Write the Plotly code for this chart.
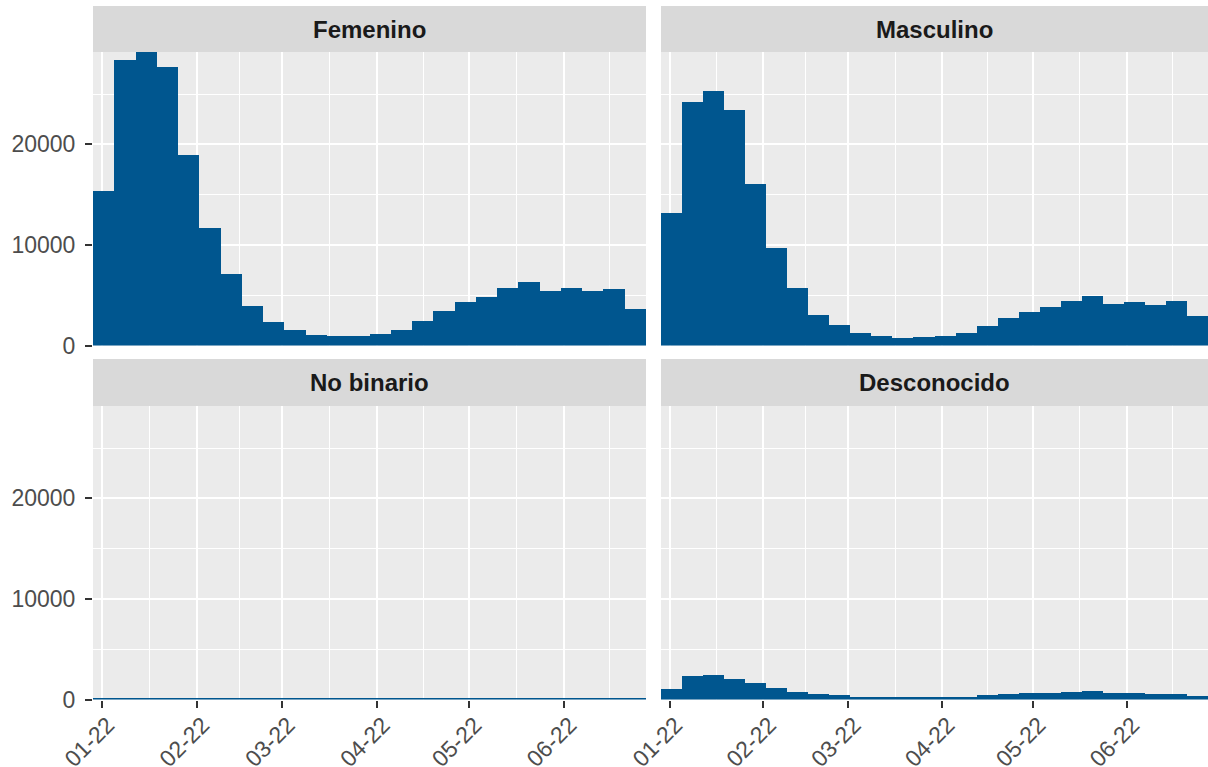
import pandas as pd
import plotly.graph_objects as go

# ---------------- data ----------------
panels = ["Femenino", "Masculino", "No binario", "Desconocido"]

femenino = [15390, 28410, 29180, 27680, 18910, 11730, 7110, 3920, 2360, 1530,
            1060, 900, 900, 1130, 1530, 2430, 3390, 4290, 4820, 5720,
            6280, 5380, 5720, 5380, 5650, 3660]
masculino = [13190, 24230, 25320, 23390, 16080, 9740, 5720, 3060, 1990, 1260,
             960, 730, 800, 900, 1200, 1930, 2690, 3320, 3860, 4450,
             4920, 4150, 4350, 4050, 4420, 2890]
no_binario = [120, 130, 140, 130, 120, 120, 110, 110, 110, 110,
              100, 100, 100, 100, 110, 110, 120, 120, 130, 130,
              130, 120, 120, 120, 120, 110]
desconocido = [1030, 2330, 2460, 2060, 1630, 1160, 760, 500, 400, 270,
               270, 200, 200, 270, 270, 400, 570, 670, 670, 730,
               800, 670, 670, 500, 570, 330]

tick_dates = ["2022-01-01", "2022-02-01", "2022-03-01", "2022-04-01", "2022-05-01", "2022-06-01"]
tick_labels = ["01-22", "02-22", "03-22", "04-22", "05-22", "06-22"]
minor_dates = ["2022-01-16 12:00", "2022-02-15", "2022-03-16 12:00", "2022-04-16",
               "2022-05-16 12:00", "2022-06-16"]
y_ticks = [0, 10000, 20000]
y_tick_labels = ["0", "10000", "20000"]
y_minor = [5000, 15000, 25000]

bin_start = pd.Timestamp("2021-12-29 03:50")
bin_days = 6.95
n_bins = len(femenino)

# ---------------- style ----------------
BAR = "#00568F"
PANEL_BG = "#EBEBEB"
STRIP_BG = "#D9D9D9"
TXT = "#4D4D4D"
FONT = "Liberation Sans, Arial, sans-serif"
FS = 23
FS_STRIP = 24

W, H = 1208, 767
xdom = [[93 / W, 646 / W], [661 / W, 1.0]]
ydom_top = [1 - 345.5 / H, 1 - 52 / H]
ydom_bot = [1 - 699.5 / H, 1 - 406 / H]
strip_top = [1 - 52 / H, 1 - 6 / H]
strip_bot = [1 - 406 / H, 1 - 359 / H]

centers = [bin_start + pd.Timedelta(days=bin_days * (i + 0.5)) for i in range(n_bins)]
width_ms = bin_days * 86400000
x_range = [bin_start, bin_start + pd.Timedelta(days=bin_days * n_bins)]
y_max = max(femenino)

fig = go.Figure()
series = [femenino, masculino, no_binario, desconocido]
for i, vals in enumerate(series):
    sfx = "" if i == 0 else str(i + 1)
    fig.add_trace(go.Bar(
        x=centers, y=vals, width=width_ms,
        marker=dict(color=BAR, line=dict(width=0)),
        xaxis="x" + sfx, yaxis="y" + sfx, showlegend=False,
        hoverinfo="x+y",
    ))

layout = dict(
    width=W, height=H,
    margin=dict(l=0, r=0, t=0, b=0, autoexpand=False),
    paper_bgcolor="white",
    plot_bgcolor=PANEL_BG,
    font=dict(family=FONT, size=FS, color=TXT),
    bargap=0,
    showlegend=False,
)

for i in range(4):
    sfx = "" if i == 0 else str(i + 1)
    col = i % 2
    row = i // 2
    bottom = row == 1
    left = col == 0
    xa = dict(
        domain=xdom[col], anchor="y" + sfx, type="date",
        range=x_range, tickvals=tick_dates, ticktext=tick_labels,
        showticklabels=bottom, ticks="outside" if bottom else "",
        ticklen=7, tickwidth=1.5, tickcolor="#333333",
        tickangle=-45, tickfont=dict(size=FS, color=TXT),
        ticklabelstandoff=-5, ticklabelshift=6,
        showgrid=True, gridcolor="white", gridwidth=1.7,
        minor=dict(tickvals=minor_dates, showgrid=True, gridcolor="white",
                   gridwidth=0.8, ticks=""),
        zeroline=False, showline=False, fixedrange=True, automargin=False,
    )
    ya = dict(
        domain=ydom_bot if bottom else ydom_top, anchor="x" + sfx,
        range=[0, y_max], tickvals=y_ticks, ticktext=y_tick_labels,
        showticklabels=left, ticks="outside" if left else "",
        ticklen=7, tickwidth=1.5, tickcolor="#333333",
        ticklabelstandoff=5,
        tickfont=dict(size=FS, color=TXT),
        showgrid=True, gridcolor="white", gridwidth=1.7,
        minor=dict(tickvals=y_minor, showgrid=True, gridcolor="white",
                   gridwidth=0.8, ticks=""),
        zeroline=False, showline=False, fixedrange=True, automargin=False,
    )
    layout["xaxis" + sfx] = xa
    layout["yaxis" + sfx] = ya

shapes = []
annotations = []
for i, name in enumerate(panels):
    col = i % 2
    row = i // 2
    sy = strip_bot if row == 1 else strip_top
    shapes.append(dict(type="rect", xref="paper", yref="paper",
                       x0=xdom[col][0], x1=xdom[col][1], y0=sy[0], y1=sy[1],
                       fillcolor=STRIP_BG, line=dict(width=0), layer="below"))
    annotations.append(dict(xref="paper", yref="paper",
                            x=(xdom[col][0] + xdom[col][1]) / 2,
                            y=(sy[0] + sy[1]) / 2,
                            text="<b>" + name + "</b>", showarrow=False,
                            xanchor="center", yanchor="middle",
                            font=dict(family=FONT, size=FS_STRIP, color="#1A1A1A")))
layout["shapes"] = shapes
layout["annotations"] = annotations

fig.update_layout(**layout)
fig.write_html("out.html",
               config={"displayModeBar": False},
               post_script="document.body.style.margin='0';document.body.style.padding='0';")
